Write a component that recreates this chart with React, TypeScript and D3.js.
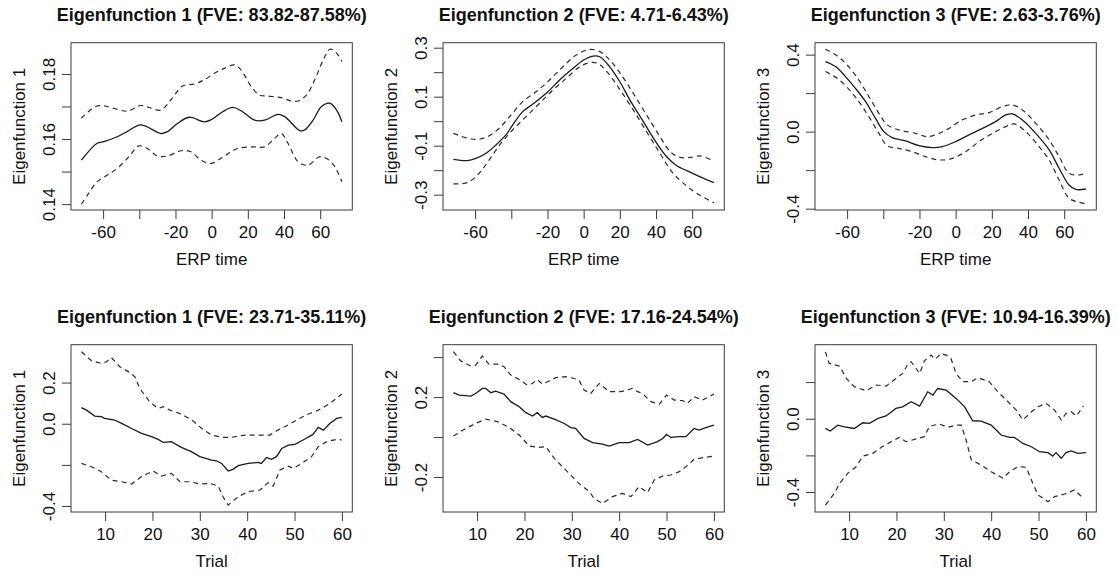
import { useEffect, useRef } from "react";
import * as d3 from "d3";

type Pt = [number, number];

// ---- ERP time direction (top row) ----
const erpEf1Mean: Pt[] = [[-72,0.1535],[-63.3,0.1587],[-59.6,0.1592],[-52.2,0.1607],[-46.7,0.1623],[-40.2,0.1643],[-36.5,0.164],[-28.1,0.1617],[-24.4,0.1623],[-18.9,0.1648],[-12.4,0.1667],[-4.1,0.1653],[0,0.166],[6.1,0.1684],[11.7,0.1697],[16.3,0.1687],[23.7,0.1658],[29.3,0.1658],[36.7,0.1676],[40.4,0.1669],[48.7,0.1626],[51.5,0.1628],[56.1,0.1658],[60.7,0.17],[65.4,0.171],[69.1,0.1689],[72,0.1653]];
const erpEf1Upper: Pt[] = [[-72,0.1664],[-64.3,0.17],[-59.6,0.1702],[-54,0.1694],[-46.7,0.1686],[-39.3,0.1703],[-34.6,0.1697],[-28.1,0.1689],[-22.6,0.172],[-16.1,0.1763],[-9.6,0.1769],[-4.1,0.1782],[1.5,0.1802],[7,0.1817],[12.6,0.1828],[16.3,0.1812],[21.9,0.1761],[26.5,0.1735],[31.1,0.1732],[38.5,0.1727],[44.1,0.1717],[47.8,0.1717],[52.4,0.1735],[57,0.1782],[61.7,0.1843],[65.4,0.1876],[69.1,0.1864],[72,0.1838]];
const erpEf1Lower: Pt[] = [[-72,0.14],[-68,0.1433],[-63.3,0.1469],[-57.8,0.1489],[-52.2,0.151],[-45.7,0.1546],[-40.2,0.1579],[-35.6,0.1571],[-30,0.1548],[-24.4,0.1548],[-17,0.1564],[-11.5,0.1561],[-5.9,0.1535],[-0.4,0.1525],[7,0.1548],[14.4,0.1571],[23.7,0.1576],[29.3,0.1576],[34.8,0.1602],[38.5,0.1617],[42.2,0.1587],[47.8,0.153],[53.3,0.152],[59.8,0.1546],[64.4,0.1537],[68.1,0.1515],[72,0.1469]];

const erpEf2Mean: Pt[] = [[-72,-0.156],[-64.3,-0.161],[-59.6,-0.152],[-54,-0.131],[-48.5,-0.097],[-43,-0.056],[-39.3,-0.016],[-33.7,0.039],[-28.1,0.07],[-20.7,0.114],[-13.3,0.168],[-5.9,0.216],[0,0.25],[5.2,0.266],[8.9,0.263],[14.4,0.222],[20,0.161],[25.6,0.086],[33,-0.002],[40.4,-0.09],[45.9,-0.145],[51.5,-0.182],[57,-0.202],[64.4,-0.227],[72,-0.251]];
const erpEf2Upper: Pt[] = [[-72,-0.05],[-65.2,-0.067],[-59.6,-0.074],[-53.1,-0.063],[-46.7,-0.029],[-40.2,0.025],[-33.7,0.08],[-26.3,0.12],[-18.9,0.168],[-11.5,0.222],[-4.1,0.27],[3.3,0.293],[8.9,0.284],[14.4,0.25],[20,0.198],[27.4,0.114],[34.8,0.025],[42.2,-0.063],[47.8,-0.124],[53.3,-0.148],[58.9,-0.148],[64.4,-0.142],[72,-0.163]];
const erpEf2Lower: Pt[] = [[-72,-0.256],[-64.3,-0.251],[-57.8,-0.213],[-52.2,-0.158],[-45.7,-0.09],[-39.3,-0.036],[-31.9,0.018],[-24.4,0.073],[-17,0.127],[-9.6,0.175],[-2.2,0.222],[3.3,0.239],[7.9,0.236],[13.3,0.198],[20,0.13],[27.4,0.046],[34.8,-0.043],[42.2,-0.131],[48.7,-0.206],[55.2,-0.254],[62.6,-0.295],[72,-0.333]];

const erpEf3Mean: Pt[] = [[-72,0.364],[-66.4,0.338],[-60.9,0.286],[-55.4,0.225],[-49.8,0.156],[-44.3,0.069],[-39.7,0],[-35.1,-0.031],[-27.7,-0.048],[-20.3,-0.073],[-12.9,-0.083],[-7.4,-0.078],[0,-0.052],[7.4,-0.017],[14.8,0.017],[22.1,0.052],[27.7,0.087],[31.4,0.092],[36.9,0.061],[44.3,-0.009],[51.7,-0.095],[57.2,-0.19],[62.7,-0.277],[66.4,-0.3],[72,-0.298]];
const erpEf3Upper: Pt[] = [[-72,0.428],[-65.5,0.393],[-60,0.346],[-53.5,0.268],[-48,0.182],[-42.4,0.095],[-37.8,0.035],[-31.4,0.009],[-22.1,-0.009],[-15.7,-0.026],[-9.2,-0.009],[-3.7,0.017],[3.7,0.061],[11.1,0.087],[18.5,0.099],[25.8,0.13],[31.4,0.139],[36.9,0.113],[44.3,0.043],[51.7,-0.043],[57.2,-0.13],[62.7,-0.216],[68.3,-0.225],[72,-0.216]];
const erpEf3Lower: Pt[] = [[-72,0.312],[-65.5,0.277],[-60,0.23],[-53.5,0.156],[-48,0.078],[-42.4,-0.009],[-37.8,-0.073],[-31.4,-0.087],[-24,-0.104],[-16.6,-0.13],[-9.2,-0.147],[-1.8,-0.139],[5.5,-0.104],[12.9,-0.052],[20.3,-0.009],[27.7,0.026],[32.3,0.04],[38.7,0],[46.1,-0.078],[51.7,-0.147],[57.2,-0.251],[62.7,-0.346],[68.3,-0.367],[72,-0.376]];

// ---- Trial direction (bottom row) ----
const trialEf1Mean: Pt[] = [[5,0.078],[6.1,0.066],[7.8,0.037],[9.2,0.034],[9.9,0.026],[12,0.018],[13.5,0.002],[15.6,-0.023],[17.7,-0.047],[19.8,-0.063],[21.2,-0.076],[22.3,-0.091],[24,-0.087],[26.1,-0.115],[28.2,-0.136],[30,-0.16],[32.5,-0.177],[33.5,-0.18],[34.6,-0.193],[36,-0.23],[37,-0.222],[38.1,-0.204],[40.2,-0.193],[42.3,-0.188],[43,-0.193],[44.1,-0.164],[45.1,-0.173],[46.2,-0.16],[47.3,-0.12],[48.7,-0.104],[50.1,-0.1],[52.2,-0.074],[53.9,-0.052],[55,-0.018],[56.1,-0.031],[57.5,0.002],[58.9,0.026],[60,0.031]];
const trialEf1Upper: Pt[] = [[5,0.35],[7.1,0.306],[9.2,0.293],[10.3,0.301],[11.3,0.322],[13.1,0.277],[15.2,0.249],[16.3,0.228],[17.3,0.172],[19.4,0.107],[21.2,0.074],[22.3,0.083],[23.7,0.066],[26.1,0.047],[28.6,0.013],[30.4,-0.023],[32.5,-0.055],[34.6,-0.066],[36.7,-0.066],[39.5,-0.055],[42.3,-0.055],[44.8,-0.055],[46.5,-0.031],[48.7,-0.006],[50.8,0.023],[52.9,0.047],[54.3,0.058],[55.7,0.074],[57.5,0.099],[60,0.144]];
const trialEf1Lower: Pt[] = [[5,-0.193],[7.1,-0.209],[9.2,-0.233],[11.3,-0.274],[13.5,-0.282],[15.6,-0.293],[17.7,-0.257],[20.1,-0.23],[21.9,-0.254],[24,-0.241],[25.8,-0.282],[27.9,-0.282],[30,-0.293],[32.1,-0.29],[33.9,-0.303],[34.9,-0.355],[36,-0.395],[38.1,-0.355],[40.2,-0.33],[42.7,-0.322],[44.4,-0.287],[45.5,-0.303],[46.9,-0.225],[48.7,-0.206],[49.7,-0.217],[51.5,-0.193],[53.6,-0.16],[55,-0.112],[56.8,-0.087],[58.9,-0.076],[60,-0.079]];

const trialEf2Mean: Pt[] = [[5,0.222],[6.2,0.21],[8.7,0.205],[9.7,0.218],[11.1,0.243],[11.8,0.243],[12.9,0.222],[13.9,0.23],[15.7,0.215],[17.1,0.177],[18.9,0.152],[20.3,0.122],[21.7,0.105],[22.7,0.122],[23.8,0.098],[24.5,0.105],[26.3,0.09],[28.4,0.068],[29.8,0.047],[30.8,0.043],[32.6,-0.007],[34.4,-0.028],[36.5,-0.035],[37.9,-0.045],[40,-0.028],[42.1,-0.028],[43.9,-0.012],[46,-0.04],[48.1,-0.023],[49.2,-0.007],[50,0.013],[50.9,-0.002],[52.7,0.002],[54.1,0.002],[55.8,0.043],[56.9,0.035],[58.3,0.047],[60,0.06]];
const trialEf2Upper: Pt[] = [[5,0.427],[6.5,0.382],[8.7,0.355],[9.7,0.36],[11.1,0.405],[12.5,0.365],[14.3,0.365],[15.7,0.352],[17.1,0.31],[18.9,0.288],[20.6,0.26],[21.7,0.268],[22.7,0.288],[23.8,0.265],[24.9,0.277],[26.6,0.297],[28.7,0.302],[30.5,0.293],[31.5,0.285],[32.6,0.235],[34,0.218],[35.8,0.268],[37.9,0.227],[40.4,0.227],[42.8,0.243],[43.9,0.227],[44.9,0.218],[46.7,0.177],[48.5,0.165],[50,0.21],[51.6,0.185],[53.4,0.182],[54.4,0.168],[55.8,0.202],[57.6,0.185],[58.7,0.198],[60,0.215]];
const trialEf2Lower: Pt[] = [[5,0.005],[7.6,0.043],[9.7,0.068],[11.8,0.09],[14.3,0.077],[16.8,0.048],[18.9,0.01],[21,-0.045],[23.1,-0.052],[24.5,-0.048],[26.3,-0.107],[28.4,-0.157],[30.1,-0.198],[31.5,-0.232],[33.7,-0.273],[34.7,-0.307],[36.5,-0.332],[38.6,-0.298],[40.7,-0.282],[42.5,-0.298],[44.2,-0.248],[46,-0.278],[47.4,-0.215],[49.2,-0.195],[50.9,-0.19],[52.7,-0.173],[54.1,-0.148],[55.8,-0.112],[58,-0.102],[60,-0.095]];

const trialEf3Mean: Pt[] = [[5,-0.053],[6,-0.067],[7.6,-0.035],[9,-0.044],[11.1,-0.053],[12.9,-0.022],[14.3,-0.025],[16.1,0.002],[17.8,0.015],[19.9,0.056],[21.3,0.065],[23.1,0.093],[24.9,0.069],[26.6,0.147],[27.7,0.129],[28.7,0.165],[30.5,0.156],[32.6,0.111],[34.4,0.065],[36.1,-0.011],[37.9,-0.013],[40,-0.035],[42.1,-0.089],[43.9,-0.102],[44.9,-0.102],[46.7,-0.135],[48.5,-0.153],[50.2,-0.18],[52,-0.185],[53,-0.204],[53.7,-0.185],[54.8,-0.216],[55.8,-0.185],[56.9,-0.176],[58.3,-0.189],[60,-0.185]];
const trialEf3Upper: Pt[] = [[5,0.365],[5.8,0.302],[8,0.287],[9.4,0.22],[11.1,0.175],[13.6,0.153],[15.7,0.184],[17.8,0.178],[19.9,0.22],[21.3,0.247],[22.4,0.298],[23.1,0.311],[24.9,0.247],[25.9,0.316],[27.3,0.347],[28.2,0.324],[29.4,0.356],[30.5,0.347],[31.5,0.329],[32.6,0.247],[34,0.202],[35.8,0.202],[37.2,0.224],[39.6,0.202],[41.4,0.147],[43.2,0.102],[45.3,0.047],[46.7,-0.007],[48.5,0.038],[49.9,0.065],[51.6,0.084],[53.4,0.047],[54.8,-0.007],[55.8,0.029],[56.9,0.038],[58,0.015],[59.5,0.07]];
const trialEf3Lower: Pt[] = [[5,-0.471],[6.9,-0.407],[8,-0.353],[9.7,-0.298],[11.5,-0.262],[12.9,-0.204],[15,-0.189],[16.8,-0.156],[18.9,-0.125],[20.6,-0.102],[22,-0.125],[23.8,-0.113],[25.9,-0.098],[27,-0.04],[29.1,-0.029],[30.8,-0.047],[32.6,-0.035],[33.7,-0.035],[34.7,-0.116],[35.8,-0.225],[37.9,-0.253],[40,-0.289],[42.5,-0.325],[43.9,-0.289],[45.6,-0.262],[47.4,-0.265],[48.8,-0.353],[49.9,-0.416],[52,-0.453],[53.4,-0.425],[55.5,-0.411],[57.6,-0.389],[59.5,-0.435]];

// ---- titles, labels, ticks ----
const titles = [
  "Eigenfunction 1 (FVE: 83.82-87.58%)",
  "Eigenfunction 2 (FVE: 4.71-6.43%)",
  "Eigenfunction 3 (FVE: 2.63-3.76%)",
  "Eigenfunction 1 (FVE: 23.71-35.11%)",
  "Eigenfunction 2 (FVE: 17.16-24.54%)",
  "Eigenfunction 3 (FVE: 10.94-16.39%)",
];
const yLabels = ["Eigenfunction 1", "Eigenfunction 2", "Eigenfunction 3"];
const xLabels = ["ERP time", "Trial"];

const erpDomain = [-77.76, 77.76];
const trialDomain = [2.8, 62.2];
const erpTicks = [-60, -40, -20, 0, 20, 40, 60];
const erpTickLabels = ["-60", "", "-20", "0", "20", "40", "60"];
const trialTicks = [10, 20, 30, 40, 50, 60];
const trialTickLabels = ["10", "20", "30", "40", "50", "60"];

const yDomains = [
  [0.1382, 0.1896],
  [-0.3626, 0.3204],
  [-0.407, 0.462],
  [-0.429, 0.384],
  [-0.375, 0.462],
  [-0.509, 0.404],
];
const yTicks = [
  [0.14, 0.15, 0.16, 0.17, 0.18],
  [-0.3, -0.2, -0.1, 0, 0.1, 0.2, 0.3],
  [-0.4, -0.2, 0, 0.2, 0.4],
  [-0.4, -0.2, 0, 0.2],
  [-0.2, 0, 0.2, 0.4],
  [-0.4, -0.2, 0, 0.2],
];
const yTickLabels = [
  ["0.14", "", "0.16", "", "0.18"],
  ["-0.3", "", "-0.1", "", "0.1", "", "0.3"],
  ["-0.4", "", "0.0", "", "0.4"],
  ["-0.4", "", "0.0", "0.2"],
  ["-0.2", "", "0.2", ""],
  ["-0.4", "", "0.0", ""],
];

const panelSeries: Pt[][][] = [
  [erpEf1Mean, erpEf1Upper, erpEf1Lower],
  [erpEf2Mean, erpEf2Upper, erpEf2Lower],
  [erpEf3Mean, erpEf3Upper, erpEf3Lower],
  [trialEf1Mean, trialEf1Upper, trialEf1Lower],
  [trialEf2Mean, trialEf2Upper, trialEf2Lower],
  [trialEf3Mean, trialEf3Upper, trialEf3Lower],
];

const FONT = "'Liberation Sans', Arial, Helvetica, sans-serif";

const App = () => {
  const ref = useRef<SVGSVGElement>(null);

  useEffect(() => {
    drawPanels();
  }, []);

  const drawPanels = () => {
    const width = 1118;
    const height = 575;
    const boxW = 281.3;
    const boxH = 167.3;
    const tickLen = 9;
    const fs = 17;

    const svg = d3.select(ref.current);
    svg.selectAll("*").remove();
    svg.attr("width", width).attr("height", height);

    panelSeries.forEach((series, i) => {
      const row = Math.floor(i / 3);
      const col = i % 3;
      const left = 71 + col * 372;
      const top = 42.7 + row * 302;

      const xScale = d3
        .scaleLinear()
        .domain(row === 0 ? erpDomain : trialDomain)
        .range([0, boxW]);
      const yScale = d3.scaleLinear().domain(yDomains[i]).range([boxH, 0]);

      const g = svg
        .append("g")
        .attr("transform", "translate(" + left + "," + top + ")")
        .style("font-family", FONT);

      // curves: smooth for ERP time, straight segments for trials
      const line = d3
        .line<Pt>()
        .x((d) => xScale(d[0]))
        .y((d) => yScale(d[1]))
        .curve(row === 0 ? d3.curveCatmullRom.alpha(0.5) : d3.curveLinear);

      series.forEach((s, k) => {
        g.append("path")
          .attr("d", line(s) as string)
          .attr("fill", "none")
          .attr("stroke", k === 0 ? "#1a1a1a" : "#2a2a2a")
          .attr("stroke-width", k === 0 ? 1.3 : 1.2)
          .attr("stroke-dasharray", k === 0 ? null : "5,4");
      });

      // box
      g.append("rect")
        .attr("width", boxW)
        .attr("height", boxH)
        .attr("fill", "none")
        .attr("stroke", "#3a3a3a")
        .attr("stroke-width", 1);

      // x axis
      const xTicks = row === 0 ? erpTicks : trialTicks;
      const xTickLabels = row === 0 ? erpTickLabels : trialTickLabels;
      const xAxis = d3
        .axisBottom(xScale)
        .tickValues(xTicks)
        .tickFormat((_d, j) => xTickLabels[j])
        .tickSize(tickLen)
        .tickPadding(7);
      const xg = g
        .append("g")
        .attr("transform", "translate(0," + boxH + ")")
        .call(xAxis);
      xg.select(".domain").remove();
      xg.selectAll("line").attr("stroke", "#3a3a3a");
      xg.selectAll("text")
        .attr("fill", "#111")
        .style("font-size", fs + "px")
        .style("font-family", FONT);

      // y axis, labels rotated like R's las = 0
      const yAxis = d3
        .axisLeft(yScale)
        .tickValues(yTicks[i])
        .tickFormat((_d, j) => yTickLabels[i][j])
        .tickSize(tickLen);
      const yg = g.append("g").call(yAxis);
      yg.select(".domain").remove();
      yg.selectAll("line").attr("stroke", "#3a3a3a");
      yg.selectAll("text")
        .attr("x", null)
        .attr("dy", null)
        .attr("text-anchor", "middle")
        .attr("transform", "translate(-16.5,0) rotate(-90)")
        .attr("fill", "#111")
        .style("font-size", fs + "px")
        .style("font-family", FONT);

      // title
      g.append("text")
        .attr("x", boxW / 2)
        .attr("y", -21.5)
        .attr("text-anchor", "middle")
        .style("font-size", "18px")
        .style("font-weight", "bold")
        .attr("fill", "#111")
        .text(titles[i]);

      // x label
      g.append("text")
        .attr("x", boxW / 2)
        .attr("y", boxH + 55.5)
        .attr("text-anchor", "middle")
        .style("font-size", fs + "px")
        .attr("fill", "#111")
        .text(xLabels[row]);

      // y label
      g.append("text")
        .attr("transform", "translate(-46.5," + boxH / 2 + ") rotate(-90)")
        .attr("text-anchor", "middle")
        .style("font-size", fs + "px")
        .attr("fill", "#111")
        .text(yLabels[col]);
    });
  };

  return (
    <svg
      ref={ref}
      style={{ position: "absolute", left: 0, top: 0, background: "white" }}
    ></svg>
  );
};

export default App;
